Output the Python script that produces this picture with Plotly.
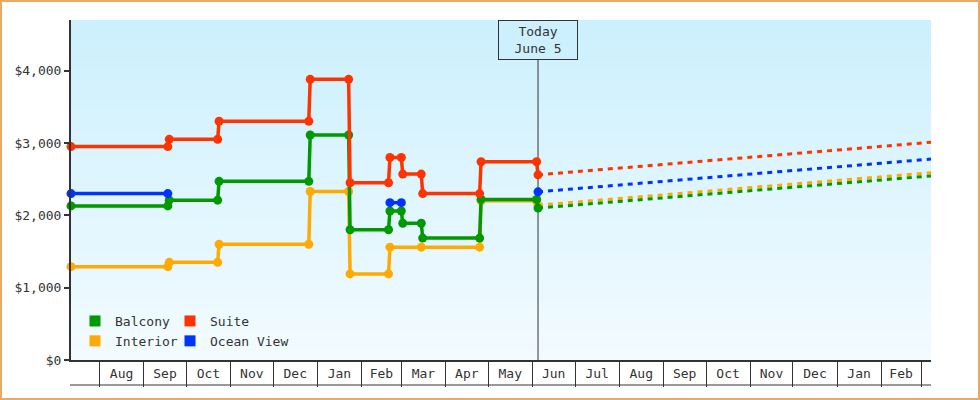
import pandas as pd
import plotly.graph_objects as go

FONT = "DejaVu Sans Mono"
TEXT = "#333333"
BG_TOP = (204, 240, 253)
BG_BOTTOM = (242, 251, 255)

TODAY = "2022-06-05"
X_START = "2021-07-12"
X_END = "2023-03-08"

# price history, one point per change (old price the day before, new price the day of)
dates = ["2021-07-12", "2021-09-18", "2021-09-19", "2021-10-23", "2021-10-24",
         "2021-12-26", "2021-12-27", "2022-01-23", "2022-01-24", "2022-02-20",
         "2022-02-21", "2022-03-01", "2022-03-02", "2022-03-15", "2022-03-16",
         "2022-04-25", "2022-04-26", "2022-06-04", "2022-06-05"]

balcony = [2130, 2130, 2210, 2210, 2470, 2470, 3110, 3110, 1800, 1800,
           2060, 2060, 1890, 1890, 1685, 1685, 2220, 2220, 2100]
suite = [2950, 2950, 3050, 3050, 3300, 3300, 3880, 3880, 2450, 2450,
         2800, 2800, 2570, 2570, 2300, 2300, 2740, 2740, 2560]
interior = [1290, 1290, 1350, 1350, 1600, 1600, 2330, 2330, 1190, 1190,
            1560, None, None, 1560, None, 1560, 2200, 2200, 2140]
ocean_view = [2300, 2300, None, None, None, None, None, None, None, None,
              2175, 2175, None, None, None, None, None, None, 2325]

# projection from today to the end of the axis
proj_dates = [TODAY, X_END]
balcony_proj = [2100, 2545]
suite_proj = [2560, 3010]
interior_proj = [2140, 2590]
ocean_view_proj = [2325, 2778]

month_labels = ["Aug", "Sep", "Oct", "Nov", "Dec", "Jan", "Feb", "Mar", "Apr", "May",
                "Jun", "Jul", "Aug", "Sep", "Oct", "Nov", "Dec", "Jan", "Feb"]
y_ticks = [0, 1000, 2000, 3000, 4000]
y_labels = ["$0", "$1,000", "$2,000", "$3,000", "$4,000"]

colors = {"Balcony": "#009900", "Suite": "#ff3300",
          "Interior": "#ffaa00", "Ocean View": "#0033ff"}

starts = pd.date_range("2021-08-01", periods=len(month_labels) + 1, freq="MS")
mids = starts[:-1] + (starts[1:] - starts[:-1]) / 2

fig = go.Figure()

series = [("Interior", interior, interior_proj, True),
          ("Balcony", balcony, balcony_proj, False),
          ("Ocean View", ocean_view, ocean_view_proj, False),
          ("Suite", suite, suite_proj, False)]
for name, vals, proj, gaps in series:
    c = colors[name]
    fig.add_trace(go.Scatter(x=proj_dates, y=proj, mode="lines", showlegend=False,
                             line=dict(color=c, width=3, dash="5px,5px"), hoverinfo="skip"))
    fig.add_trace(go.Scatter(x=dates, y=vals, mode="lines+markers", name=name, showlegend=False,
                             connectgaps=gaps, cliponaxis=False,
                             line=dict(color=c, width=3.5),
                             marker=dict(color=c, size=9, symbol="circle")))

# legend swatches: two columns
for name, leg in [("Balcony", "legend"), ("Interior", "legend"),
                  ("Suite", "legend2"), ("Ocean View", "legend2")]:
    fig.add_trace(go.Scatter(x=[None], y=[None], mode="markers", name=name, legend=leg,
                             marker=dict(symbol="square", size=11, color=colors[name])))

# plot area: 71..931 x 20..360 px
def px_x(p):
    return (p - 71) / 860


def px_y(p):
    return (360 - p) / 340


shapes = []
n = 34
for i in range(n):
    t = i / (n - 1)
    rgb = tuple(round(a + (b - a) * t) for a, b in zip(BG_TOP, BG_BOTTOM))
    shapes.append(dict(type="rect", xref="paper", yref="paper", x0=0, x1=1,
                       y0=1 - (i + 1) / n, y1=1 - i / n, layer="below",
                       fillcolor="rgb(%d,%d,%d)" % rgb, line=dict(width=0)))
shapes.append(dict(type="line", xref="x", yref="paper", x0=TODAY, x1=TODAY,
                   y0=0, y1=px_y(60), layer="below", line=dict(color=TEXT, width=1)))
shapes.append(dict(type="line", xref="paper", yref="paper", x0=px_x(70), x1=1,
                   y0=px_y(385), y1=px_y(385), line=dict(color=TEXT, width=1)))
shapes.append(dict(type="rect", xref="paper", yref="paper", x0=px_x(1), x1=px_x(979),
                   y0=px_y(399), y1=px_y(1), line=dict(color="#e9a961", width=2)))

leg_style = dict(orientation="v", xanchor="left", yanchor="middle", bgcolor="rgba(0,0,0,0)",
                 itemwidth=30, tracegroupgap=0, font=dict(family=FONT, size=13, color=TEXT))

fig.update_layout(
    width=980, height=400,
    margin=dict(l=71, r=49, t=20, b=40),
    paper_bgcolor="white",
    plot_bgcolor="rgb(%d,%d,%d)" % BG_BOTTOM,
    font=dict(family=FONT, size=13, color=TEXT),
    shapes=shapes,
    hovermode=False,
    legend=dict(x=px_x(75), y=px_y(331), **leg_style),
    legend2=dict(x=px_x(170), y=px_y(331), **leg_style),
    annotations=[dict(x=TODAY, xref="x", y=1, yref="paper", yanchor="top",
                      text="Today<br>June 5", showarrow=False, align="center",
                      width=72, height=32, borderpad=3, borderwidth=1,
                      bordercolor=TEXT, bgcolor="rgb(%d,%d,%d)" % BG_TOP,
                      font=dict(family=FONT, size=13, color=TEXT))],
)

fig.update_xaxes(type="date", range=[X_START, X_END], showgrid=False, zeroline=False,
                 tickmode="array", tickvals=mids, ticktext=month_labels, ticks="",
                 showline=True, linecolor=TEXT, linewidth=2,
                 tickfont=dict(family=FONT, size=13, color=TEXT),
                 minor=dict(tickmode="array", tickvals=starts, ticks="outside",
                            ticklen=25, tickwidth=1, tickcolor=TEXT))

fig.update_yaxes(range=[0, 4700], showgrid=False, zeroline=False,
                 tickmode="array", tickvals=y_ticks, ticktext=y_labels,
                 ticks="outside", ticklen=5, tickwidth=2, tickcolor=TEXT,
                 showline=True, linecolor=TEXT, linewidth=2,
                 tickfont=dict(family=FONT, size=13, color=TEXT))

# the page body has a default margin; drop it so the chart fills the window
fig.write_html("out.html", config={"displayModeBar": False},
               post_script="document.body.style.margin = '0';")
